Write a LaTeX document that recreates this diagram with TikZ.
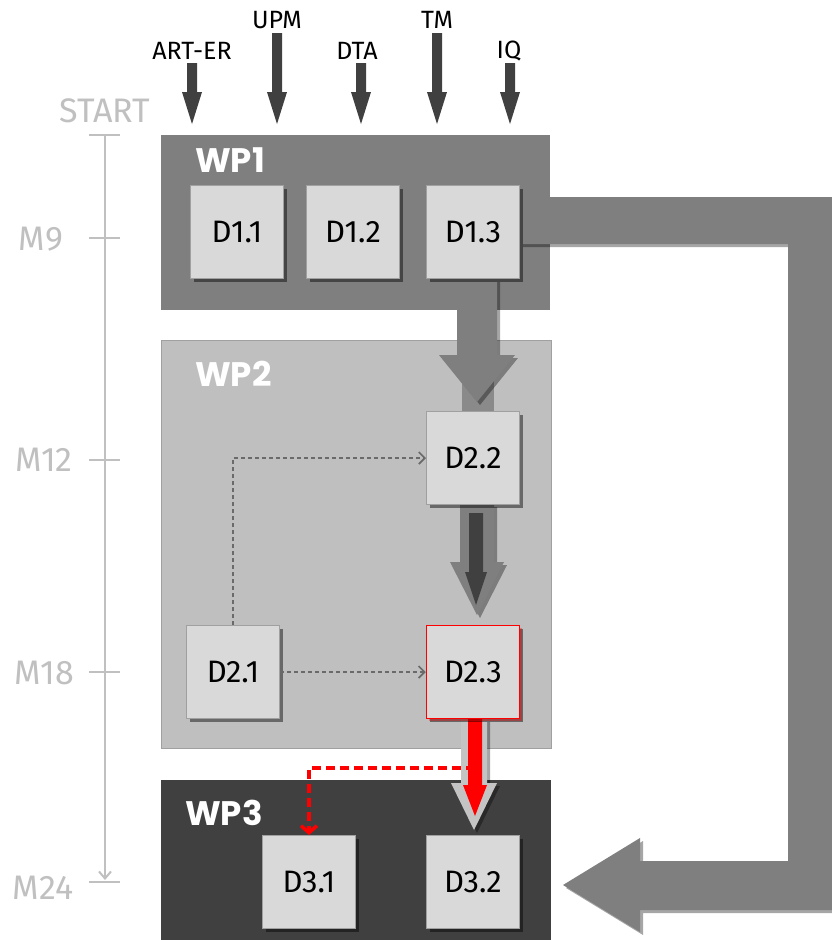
\documentclass[tikz,border=0pt]{standalone}
\usepackage{fontspec}
\setmainfont{Fira Sans}
\newfontfamily\wpfont{Poppins}
\usetikzlibrary{shadows,arrows.meta}
\definecolor{wpone}{HTML}{7F7F7F}
\definecolor{wptwo}{HTML}{BFBFBF}
\definecolor{wpthree}{HTML}{404040}
\definecolor{dbox}{HTML}{D9D9D9}
\definecolor{dborder}{HTML}{A0A0A0}
\definecolor{tline}{HTML}{C0C0C0}
\definecolor{dashgray}{HTML}{6A6A6A}
\definecolor{bandgray}{HTML}{8A8A8A}
\definecolor{lightarrow}{HTML}{C4C4C4}
\newcommand{\blockarrow}[7]{%
  \fill[#1] ({#2-#3},#5) -- ({#2+#3},#5) -- ({#2+#3},#6) -- ({#2+#4},#6) -- (#2,#7) -- ({#2-#4},#6) -- ({#2-#3},#6) -- cycle;}
\tikzset{
  dnode/.style={draw=dborder, line width=1pt, fill=dbox, minimum width=93pt, minimum height=93pt, inner sep=0pt,
    font=\fontsize{31}{36}\selectfont, text=black,
    drop shadow={shadow xshift=3pt, shadow yshift=-3pt, opacity=0.45, fill=black}},
  wplabel/.style={font=\wpfont\fontsize{34}{40}\selectfont\bfseries, text=white, anchor=west, inner sep=0pt},
  mslabel/.style={font=\fontsize{34}{40}\selectfont, text=tline, inner sep=0pt},
  inlabel/.style={font=\fontsize{25}{30}\selectfont, text=black, inner sep=0pt},
  depdash/.style={draw=dashgray, line width=1.7pt, dash pattern=on 4pt off 3pt, -{Straight Barb[length=6pt,width=12pt]}},
  reddash/.style={draw=red, line width=3.5pt, dash pattern=on 9pt off 5pt, -{Straight Barb[length=7pt,width=16pt]}},
  softshadow/.style={drop shadow={shadow xshift=3pt, shadow yshift=-3pt, opacity=0.35, fill=black}}
}
\begin{document}
\begin{tikzpicture}[x=1pt,y=-1pt]
\useasboundingbox (0,0) rectangle (832,940);
\fill[white] (0,0) rectangle (832,940);

% timeline
\draw[tline, line width=2pt, -{Straight Barb[length=7pt,width=12pt]}] (105,135) -- (105,880);
\foreach \yy in {135,238,460,672,882} \draw[tline, line width=2pt] (89,\yy) -- (120,\yy);
\node[mslabel] (mstart) at (105,111) {START};
\node[mslabel] (m9) at (41,239) {M9};
\node[mslabel] (m12) at (44,460) {M12};
\node[mslabel] (m18) at (44,673) {M18};
\node[mslabel] (m24) at (43,888) {M24};

% work packages
\fill[wpone] (161,135) rectangle (550,310);
\filldraw[fill=wptwo, draw=dborder, line width=1pt] (161,340) rectangle (551,748);
\fill[wpthree] (161,780) rectangle (551,940);
\node[wplabel] (wp1) at (195,160) {WP1};
\node[wplabel] (wp2) at (195,374) {WP2};
\node[wplabel] (wp3) at (185,813) {WP3};

% input arrows
\blockarrow{wpthree}{192}{5}{10}{63}{92}{124}
\blockarrow{wpthree}{277}{5}{10}{33}{92}{124}
\blockarrow{wpthree}{361}{5}{10}{63}{92}{124}
\blockarrow{wpthree}{437}{5}{10}{33}{92}{124}
\blockarrow{wpthree}{510}{5}{10}{63}{92}{124}
\node[inlabel] (artr) at (192,51) {ART-ER};
\node[inlabel] (upm) at (277,20) {UPM};
\node[inlabel] (dta) at (357,51) {DTA};
\node[inlabel] (tm) at (437,20) {TM};
\node[inlabel] (iq) at (509,51) {IQ};

% big return arrow WP1 -> D3.2
\fill[wpone, softshadow] (520,197) -- (832,197) -- (832,910) -- (640,910) -- (640,932) -- (563,885) -- (640,838) -- (640,861) -- (788,861) -- (788,244) -- (520,244) -- cycle;

% flow arrows D1.3 -> D2.2 -> D2.3
\fill[bandgray] (462,380) rectangle (494,565);
\blockarrow{wpone, softshadow}{477}{20}{38}{279}{355}{402}
\blockarrow{wpone, softshadow}{477}{17}{27}{504}{562}{615}
\blockarrow{wpthree}{476}{7}{11}{513}{572}{605}

% D2.3 -> D3.2
\blockarrow{lightarrow, softshadow}{474}{13}{23}{719}{783}{830}
\blockarrow{red}{475}{7}{12}{719}{785}{816}

% deliverables
\node[dnode] (d11) at (237,232) {D1.1};
\node[dnode] (d12) at (353,232) {D1.2};
\node[dnode] (d13) at (473,232) {D1.3};
\node[dnode] (d22) at (473,458) {D2.2};
\node[dnode] (d21) at (233,672) {D2.1};
\node[dnode, draw=red, line width=1.5pt, drop shadow={shadow xshift=2pt, shadow yshift=-2pt, opacity=0.35, fill=red}] (d23) at (473,672) {D2.3};
\node[dnode] (d31) at (309,882) {D3.1};
\node[dnode] (d32) at (473,882) {D3.2};

% dependencies
\draw[depdash] (d21.north) |- (d22.west);
\draw[depdash] (d21.east) -- (d23.west);
\coordinate (redsplit) at (475,768);
\draw[reddash] (redsplit) -| (d31.north);
\end{tikzpicture}
\end{document}
